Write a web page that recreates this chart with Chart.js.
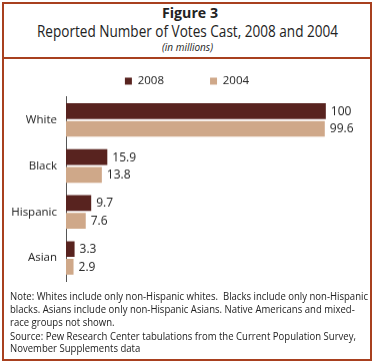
<html>
<head>
<script src="https://cdn.jsdelivr.net/npm/chart.js@4.4.0/dist/chart.umd.min.js"></script>
<style>
  body { margin:0; background:#fff; font-family:"Open Sans", sans-serif; }
  #frame { position:absolute; left:2px; top:2px; width:366px; height:355px; border:2px solid #a8401f; }
  #divider { position:absolute; left:2px; top:57px; width:370px; height:2px; background:#a8401f; }
  .fit { position:absolute; color:#222; white-space:nowrap; transform-origin:0 0; }
  .nl { position:absolute; left:10px; font-size:10.5px; color:#222; white-space:nowrap; transform-origin:0 0; }
</style>
</head>
<body>
<div id="frame"></div>
<div id="divider"></div>
<div class="fit" data-x="162" data-w="56" style="top:3px;font-size:14px;font-weight:bold;">Figure 3</div>
<div class="fit" data-x="37" data-w="301" style="top:20px;font-size:15.5px;">Reported Number of Votes Cast, 2008 and 2004</div>
<div class="fit" data-x="162" data-w="51" style="top:40px;font-size:10px;font-style:italic;">(in millions)</div>
<div id="box" style="position:absolute;left:4px;top:60px;width:366px;height:226px;">
  <canvas id="myChart"></canvas>
</div>
<div class="nl" id="n1" style="top:289px;">Note: Whites include only non-Hispanic whites.&nbsp; Blacks include only non-Hispanic</div>
<div class="nl" style="top:302px;">blacks. Asians include only non-Hispanic Asians. Native Americans and mixed-</div>
<div class="nl" style="top:315px;">race groups not shown.</div>
<div class="nl" style="top:329px;">Source: Pew Research Center tabulations from the Current Population Survey,</div>
<div class="nl" style="top:341px;">November Supplements data</div>
<script>
var groups = ['White', 'Black', 'Hispanic', 'Asian'];
var votes2008 = [100, 15.9, 9.7, 3.3];
var votes2004 = [99.6, 13.8, 7.6, 2.9];
var labels2008 = ['100', '15.9', '9.7', '3.3'];
var labels2004 = ['99.6', '13.8', '7.6', '2.9'];

// squeeze text blocks to the widths in the picture
document.querySelectorAll('.fit').forEach(function(el) {
  var w = el.getBoundingClientRect().width;
  el.style.left = el.dataset.x + 'px';
  el.style.transform = 'scaleX(' + (el.dataset.w / w) + ')';
});
var noteScale = 358 / document.getElementById('n1').getBoundingClientRect().width;
document.querySelectorAll('.nl').forEach(function(el) {
  el.style.transform = 'scaleX(' + noteScale + ')';
});

var valueLabels = {
  id: 'valueLabels',
  afterDatasetsDraw: function(chart) {
    var ctx = chart.ctx;
    ctx.save();
    ctx.font = '12px "Open Sans"';
    ctx.fillStyle = '#222';
    ctx.textBaseline = 'middle';
    chart.data.datasets.forEach(function(ds, i) {
      var txt = i == 0 ? labels2008 : labels2004;
      chart.getDatasetMeta(i).data.forEach(function(bar, j) {
        ctx.fillText(txt[j], bar.x + 5, bar.y + 0.5);
      });
    });
    ctx.restore();
  }
};

var pad = { top: 8, right: 0, bottom: 6, left: 0 };
var ctx = document.getElementById('myChart').getContext('2d');
var chart = new Chart(ctx, {
  type: 'bar',
  data: {
    labels: groups,
    datasets: [{
      label: '2008',
      backgroundColor: '#58231f',
      data: votes2008,
      barPercentage: 0.89,
      categoryPercentage: 0.77
    }, {
      label: '2004',
      backgroundColor: '#cfa889',
      data: votes2004,
      barPercentage: 0.89,
      categoryPercentage: 0.77
    }]
  },
  plugins: [valueLabels],
  options: {
    indexAxis: 'y',
    responsive: true,
    maintainAspectRatio: false,
    animation: false,
    layout: { padding: pad },
    plugins: {
      legend: {
        display: true,
        labels: {
          boxWidth: 7, boxHeight: 7, padding: 7.25,
          color: '#222',
          font: { family: 'Open Sans', size: 11.5 },
          generateLabels: function(chart) {
            var items = Chart.defaults.plugins.legend.labels.generateLabels(chart);
            // widen the first entry so the two sit apart as in the figure
            items[0].text = items[0].text + '\u00a0'.repeat(13);
            return items;
          }
        }
      },
      tooltip: { enabled: false }
    },
    scales: {
      // 100 ends at x=326, the frame leaves room for the labels
      x: { display: false, min: 0, max: 117 },
      y: {
        grid: { display: false, drawTicks: false },
        border: { display: true, color: '#555', width: 1 },
        ticks: { color: '#222', font: { family: 'Open Sans', size: 11.5 }, padding: 9 },
        afterFit: function(scale) { scale.width = 62; }
      }
    }
  }
});

// plot area in the figure ends at y=280 (canvas starts at 60)
var a = chart.chartArea;
var box = document.getElementById('box');
box.style.height = (226 + 220 - a.bottom) + 'px';
chart.resize();
</script>
</body>
</html>
